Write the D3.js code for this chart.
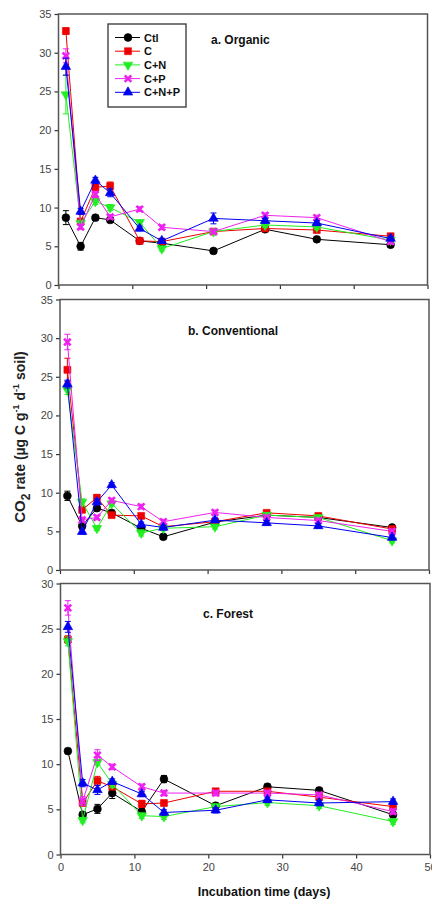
<!DOCTYPE html>
<html>
<head>
<meta charset="utf-8">
<script src="https://cdn.jsdelivr.net/npm/d3@7"></script>
<style>
  html, body { margin: 0; padding: 0; background: #fff; }
  svg { display: block; font-family: Arial, "Liberation Sans", sans-serif; }
</style>
</head>
<body>
<svg id="chart" width="432" height="899"></svg>
<script>
// Sampling days of the incubation
const days = [1, 3, 5, 7, 11, 14, 21, 28, 35, 45];
const seriesNames = ["Ctl", "C", "C+N", "C+P", "C+N+P"];
const panelTitles = ["a. Organic", "b. Conventional", "c. Forest"];
const yMaxes = [35, 35, 30];
const xTicks = [0, 10, 20, 30, 40, 50];

// CO2 rate, organic soil
const organicCtl  = [8.7, 5.0, 8.7, 8.4, 5.7, 5.4, 4.4, 7.2, 5.9, 5.2];
const organicC    = [32.8, 8.2, 12.6, 12.8, 5.7, 5.6, 6.9, 7.3, 7.1, 6.3];
const organicCN   = [24.6, 8.0, 10.8, 10.0, 8.1, 4.7, 6.9, 7.75, 7.5, 5.8];
const organicCP   = [29.6, 7.5, 11.7, 8.8, 9.8, 7.45, 6.9, 9.0, 8.7, 5.6];
const organicCNP  = [28.2, 9.5, 13.5, 11.9, 7.3, 5.7, 8.6, 8.3, 8.0, 6.0];
const organicCtlErr = [0.9, 0.5, 0.3, 0.3, 0.3, 0.3, 0.3, 0.3, 0.3, 0.3];
const organicCErr   = [0.4, 0.4, 0.4, 0.5, 0.3, 0.3, 0.3, 0.3, 0.3, 0.3];
const organicCNErr  = [2.5, 0.3, 0.4, 0.4, 0.3, 0.3, 0.3, 0.3, 0.3, 0.3];
const organicCPErr  = [0.9, 0.3, 0.4, 0.3, 0.3, 0.3, 0.3, 0.3, 0.3, 0.3];
const organicCNPErr = [1.1, 0.4, 0.4, 0.5, 0.3, 0.3, 0.7, 0.3, 0.3, 0.3];

// CO2 rate, conventional soil
const conventionalCtl = [9.6, 5.7, 8.0, 7.4, 5.4, 4.3, 6.2, 7.1, 6.8, 5.5];
const conventionalC   = [25.9, 7.8, 9.35, 7.1, 7.0, 5.6, 6.25, 7.4, 7.0, 5.3];
const conventionalCN  = [23.3, 8.8, 5.4, 8.6, 4.8, 5.4, 5.6, 7.1, 6.8, 3.8];
const conventionalCP  = [29.5, 6.5, 6.8, 9.0, 8.2, 6.25, 7.45, 6.8, 6.4, 5.0];
const conventionalCNP = [24.05, 4.95, 8.8, 11.0, 5.9, 5.5, 6.45, 6.1, 5.7, 4.2];
const conventionalCtlErr = [0.6, 0.4, 0.3, 0.3, 0.3, 0.3, 0.3, 0.3, 0.3, 0.3];
const conventionalCErr   = [1.5, 0.4, 0.4, 0.3, 0.3, 0.3, 0.3, 0.3, 0.3, 0.3];
const conventionalCNErr  = [0.6, 0.4, 0.3, 0.3, 0.4, 0.3, 0.3, 0.3, 0.3, 0.3];
const conventionalCPErr  = [1.0, 0.3, 0.3, 0.3, 0.3, 0.3, 0.3, 0.3, 0.3, 0.3];
const conventionalCNPErr = [0.5, 0.3, 0.4, 0.3, 0.3, 0.3, 0.3, 0.3, 0.3, 0.3];

// CO2 rate, forest soil
const forestCtl = [11.45, 4.4, 5.05, 6.8, 4.75, 8.35, 5.4, 7.5, 7.1, 4.4];
const forestC   = [23.8, 5.7, 8.15, 7.5, 5.6, 5.7, 7.0, 7.0, 6.35, 5.3];
const forestCN  = [23.6, 3.8, 10.2, 7.8, 4.3, 4.2, 5.3, 5.75, 5.4, 3.65];
const forestCP  = [27.3, 5.9, 11.0, 9.7, 7.5, 6.8, 6.8, 6.8, 6.6, 4.75];
const forestCNP = [25.2, 7.9, 7.15, 8.07, 6.7, 4.65, 4.9, 6.05, 5.7, 5.85];
const forestCtlErr = [0.3, 0.3, 0.5, 0.6, 0.3, 0.4, 0.3, 0.3, 0.3, 0.3];
const forestCErr   = [0.4, 0.3, 0.5, 0.3, 0.4, 0.3, 0.3, 0.3, 0.3, 0.3];
const forestCNErr  = [0.5, 0.3, 0.3, 0.4, 0.3, 0.3, 0.3, 0.3, 0.3, 0.3];
const forestCPErr  = [0.8, 0.5, 0.6, 0.3, 0.3, 0.3, 0.3, 0.3, 0.3, 0.3];
const forestCNPErr = [0.6, 0.4, 0.5, 0.3, 0.3, 0.3, 0.3, 0.3, 0.3, 0.3];

const panelValues = [
  [organicCtl, organicC, organicCN, organicCP, organicCNP],
  [conventionalCtl, conventionalC, conventionalCN, conventionalCP, conventionalCNP],
  [forestCtl, forestC, forestCN, forestCP, forestCNP]
];
const panelErrors = [
  [organicCtlErr, organicCErr, organicCNErr, organicCPErr, organicCNPErr],
  [conventionalCtlErr, conventionalCErr, conventionalCNErr, conventionalCPErr, conventionalCNPErr],
  [forestCtlErr, forestCErr, forestCNErr, forestCPErr, forestCNPErr]
];

// Styling per treatment
const colors = ["#000000", "#ee0000", "#22ee22", "#ee22ee", "#0000ee"];
const symbolPaths = [
  d3.symbol(d3.symbolCircle, 48)(),
  d3.symbol(d3.symbolSquare, 48)(),
  d3.symbol(d3.symbolTriangle, 40)(),
  "M-3.3,-3.3L3.3,3.3M-3.3,3.3L3.3,-3.3",
  d3.symbol(d3.symbolTriangle, 40)()
];

// Plot boxes of the three stacked panels
const boxes = [
  { left: 58.5, right: 427.5, top: 14, bottom: 285 },
  { left: 60, right: 429, top: 299.5, bottom: 570 },
  { left: 60.5, right: 430, top: 583.5, bottom: 854.5 }
];

const svg = d3.select("#chart");

function drawMarker(g, i, x, y) {
  const p = g.append("path")
    .attr("d", symbolPaths[i])
    .attr("transform", `translate(${x},${y})` + (i === 2 ? " rotate(180)" : ""));
  if (i === 3) {
    p.attr("fill", "none").attr("stroke", colors[i]).attr("stroke-width", 2.6);
  } else {
    p.attr("fill", colors[i]).attr("stroke", colors[i]).attr("stroke-width", 0.6);
  }
}

boxes.forEach((b, pi) => {
  const x = d3.scaleLinear().domain([0, 50]).range([b.left, b.right]);
  const y = d3.scaleLinear().domain([0, yMaxes[pi]]).range([b.bottom, b.top]);
  const g = svg.append("g");

  // y axis
  const yAxis = d3.axisLeft(y).tickValues(d3.range(0, yMaxes[pi] + 1, 5)).tickSize(4).tickPadding(3);
  const ya = g.append("g").attr("transform", `translate(${b.left},0)`).call(yAxis);
  ya.select(".domain").remove();
  ya.selectAll("line").attr("stroke", "#333").attr("stroke-width", 1.2);
  ya.selectAll("text").attr("fill", "#444").style("font-size", "11px").style("font-family", "Arial, 'Liberation Sans', sans-serif");

  // x axis (labels only on bottom panel)
  const xAxis = d3.axisBottom(x).tickValues(xTicks).tickSize(4).tickPadding(5);
  if (pi < 2) xAxis.tickFormat("");
  const xa = g.append("g").attr("transform", `translate(0,${b.bottom})`).call(xAxis);
  xa.select(".domain").remove();
  xa.selectAll("line").attr("stroke", "#333").attr("stroke-width", 1.2);
  xa.selectAll("text").attr("fill", "#444").style("font-size", "11px").style("font-family", "Arial, 'Liberation Sans', sans-serif");

  // frame
  g.append("rect")
    .attr("x", b.left).attr("y", b.top)
    .attr("width", b.right - b.left).attr("height", b.bottom - b.top)
    .attr("fill", "none").attr("stroke", "#555").attr("stroke-width", 1.5);

  // series
  panelValues[pi].forEach((vals, si) => {
    const errs = panelErrors[pi][si];
    const pts = days.map((d, k) => ({ d, v: vals[k], e: errs[k] }));
    const sg = g.append("g");
    sg.append("path")
      .datum(pts)
      .attr("fill", "none")
      .attr("stroke", colors[si])
      .attr("stroke-width", 1)
      .attr("d", d3.line().x(p => x(p.d)).y(p => y(p.v)));
    pts.forEach(p => {
      const cx = x(p.d);
      sg.append("path")
        .attr("d", `M${cx},${y(p.v - p.e)}V${y(p.v + p.e)}M${cx - 3},${y(p.v - p.e)}H${cx + 3}M${cx - 3},${y(p.v + p.e)}H${cx + 3}`)
        .attr("stroke", colors[si]).attr("stroke-width", 1).attr("fill", "none");
      drawMarker(sg, si, cx, y(p.v));
    });
  });

  // panel label
  const labelPos = [[211, 44], [188, 335], [203, 618]][pi];
  g.append("text")
    .attr("x", labelPos[0]).attr("y", labelPos[1])
    .attr("font-size", "12px").attr("font-weight", "bold").attr("fill", "#111")
    .text(panelTitles[pi]);
});

// Legend in the organic panel
const leg = svg.append("g");
leg.append("rect").attr("x", 108).attr("y", 24).attr("width", 78).attr("height", 83)
  .attr("fill", "#fff").attr("stroke", "#333").attr("stroke-width", 1.3);
seriesNames.forEach((name, i) => {
  const ly = 37.5 + i * 13.7;
  leg.append("line").attr("x1", 115).attr("x2", 140).attr("y1", ly).attr("y2", ly)
    .attr("stroke", colors[i]).attr("stroke-width", 1);
  drawMarker(leg, i, 128, ly);
  leg.append("text").attr("x", 144).attr("y", ly + 4)
    .attr("font-size", "11px").attr("font-weight", "bold").attr("fill", "#111")
    .text(name);
});

// Axis titles
const yTitle = svg.append("text")
  .attr("transform", "translate(25,437) rotate(-90)")
  .attr("text-anchor", "middle")
  .attr("font-size", "14px").attr("font-weight", "bold").attr("fill", "#222");
yTitle.append("tspan").attr("font-size", "15px").text("CO");
yTitle.append("tspan").attr("font-size", "12px").attr("dy", 5).text("2");
yTitle.append("tspan").attr("dy", -5).text(" rate (µg C g");
yTitle.append("tspan").attr("font-size", "9px").attr("dy", -6).text("-1");
yTitle.append("tspan").attr("dy", 6).text(" d");
yTitle.append("tspan").attr("font-size", "9px").attr("dy", -6).text("-1");
yTitle.append("tspan").attr("dy", 6).text(" soil)");

svg.append("text")
  .attr("x", 264).attr("y", 896)
  .attr("text-anchor", "middle")
  .attr("font-size", "12.5px").attr("font-weight", "bold").attr("fill", "#111")
  .text("Incubation time (days)");
</script>
</body>
</html>
